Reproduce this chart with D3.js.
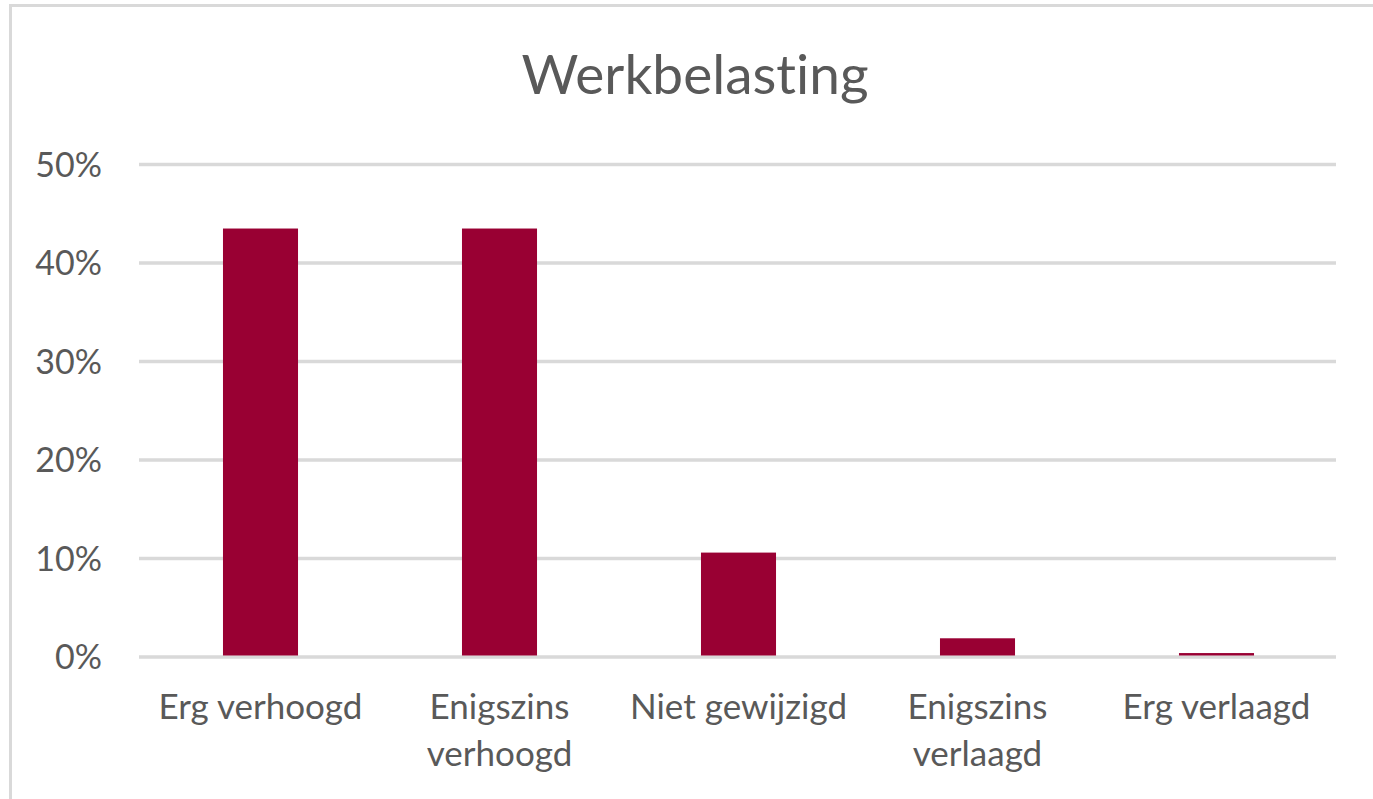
<!DOCTYPE html>
<html>
<head>
<meta charset="utf-8">
<script src="https://cdn.jsdelivr.net/npm/d3@7"></script>
<style>
  body { margin: 0; background: #fff; }
  svg { display: block; }
  text { font-variant-ligatures: none; }
</style>
</head>
<body>
<div id="chart"></div>
<script>
  // data
  var categories = ['Erg verhoogd', 'Enigszins verhoogd', 'Niet gewijzigd', 'Enigszins verlaagd', 'Erg verlaagd'];
  var values = [0.435, 0.435, 0.106, 0.019, 0.004];
  var tickLabelLines = [['Erg verhoogd'], ['Enigszins', 'verhoogd'], ['Niet gewijzigd'], ['Enigszins', 'verlaagd'], ['Erg verlaagd']];
  var yTicks = [0, 0.1, 0.2, 0.3, 0.4, 0.5];

  var width = 1373;
  var height = 799;
  var font = 'Lato, "Open Sans", sans-serif';
  var textColor = '#595959';
  var gridColor = '#d9d9d9';

  var svg = d3.select('#chart')
      .append('svg')
      .attr('width', width)
      .attr('height', height);

  // chart frame (right and bottom edges run off the page)
  svg.append('rect')
      .attr('x', 10.5)
      .attr('y', 5.5)
      .attr('width', width + 20)
      .attr('height', height + 20)
      .attr('fill', '#fff')
      .attr('stroke', gridColor)
      .attr('stroke-width', 3);

  var x = d3.scaleBand()
      .domain(categories)
      .range([141, 1336])
      .paddingInner(0.686)
      .paddingOuter(0.343);

  var y = d3.scaleLinear()
      .domain([0, 0.5])
      .range([657, 164.5]);

  // title
  svg.append('text')
      .attr('x', 695)
      .attr('y', 94)
      .attr('text-anchor', 'middle')
      .attr('font-family', font)
      .attr('font-size', 55)
      .attr('fill', textColor)
      .text('Werkbelasting');

  // gridlines
  svg.append('g')
      .selectAll('line')
      .data(yTicks)
      .enter()
      .append('line')
      .attr('x1', 139)
      .attr('x2', 1336)
      .attr('y1', function(d) { return y(d); })
      .attr('y2', function(d) { return y(d); })
      .attr('stroke', gridColor)
      .attr('stroke-width', 3.5);

  // y tick labels
  svg.append('g')
      .selectAll('text')
      .data(yTicks)
      .enter()
      .append('text')
      .attr('x', 102)
      .attr('y', function(d) { return y(d) + 12.2; })
      .attr('text-anchor', 'end')
      .attr('font-family', font)
      .attr('font-size', 34)
      .attr('fill', textColor)
      .text(d3.format('.0%'));

  // bars
  svg.append('g')
      .selectAll('rect')
      .data(values)
      .enter()
      .append('rect')
      .attr('x', function(d, i) { return x(categories[i]); })
      .attr('y', function(d) { return y(d); })
      .attr('width', x.bandwidth())
      .attr('height', function(d) { return y(0) - 1.5 - y(d); })
      .attr('fill', '#990033');

  // category labels
  var labels = svg.append('g')
      .selectAll('text')
      .data(categories)
      .enter()
      .append('text')
      .attr('text-anchor', 'middle')
      .attr('font-family', font)
      .attr('font-size', 35)
      .attr('fill', textColor);

  labels.each(function(d, i) {
    var cx = x(d) + x.bandwidth() / 2;
    d3.select(this).selectAll('tspan')
        .data(tickLabelLines[i])
        .enter()
        .append('tspan')
        .attr('x', cx)
        .attr('y', function(line, j) { return 719 + j * 47; })
        .text(function(line) { return line; });
  });
</script>
</body>
</html>
